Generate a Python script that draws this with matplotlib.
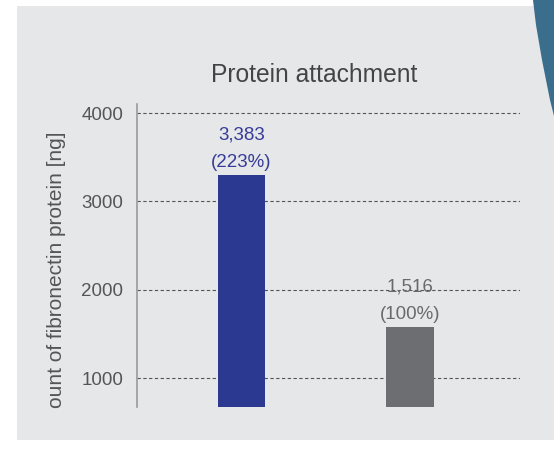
import matplotlib
matplotlib.use("Agg")
import matplotlib.pyplot as plt
from matplotlib.patches import Rectangle, Polygon

categories = ["Sample A", "Control"]
values = [3300, 1580]
value_labels = ["3,383", "1,516"]
pct_labels = ["(223%)", "(100%)"]
yticks = [1000, 2000, 3000, 4000]
ytick_labels = ["1000", "2000", "3000", "4000"]

bar_colors = ["#2b3990", "#6d6e71"]
label_colors = ["#363c98", "#6a6a6c"]

plt.rcParams['font.family'] = ['Liberation Sans', 'DejaVu Sans']

fig = plt.figure(figsize=(5.54, 4.55), dpi=100)
fig.patch.set_facecolor("white")

# panel background
fig.patches.append(Rectangle((17/554, 1-440/455), 1, (440-6)/455,
                             transform=fig.transFigure, facecolor="#e6e7e8",
                             edgecolor="none", zorder=-2))
# decorative blue shape at top right
fig.patches.append(Polygon([(533/554, 1.0), (1.0, 1.0), (1.0, 1-116/455),
                            (550/554, 1-100/455), (542/554, 1-60/455),
                            (536/554, 1-25/455)],
                           closed=True, transform=fig.transFigure,
                           facecolor="#3b6d8c", edgecolor="none", zorder=-1))

ax = fig.add_axes([137/554, 1-407/455, (520-137)/554, (407-104)/455])
ax.set_zorder(2)
ax.set_facecolor("none")
x = list(range(len(categories)))
ax.bar(x, values, width=0.28, color=bar_colors, zorder=3)
ax.set_xlim(-0.62, 1.652)
ax.set_ylim(672, 4102)

ax.set_yticks(yticks)
ax.set_yticklabels(ytick_labels, fontsize=13.5, color="#555555")
ax.tick_params(axis="y", length=0, pad=10)
ax.set_xticks([])
for s in ["top", "right", "bottom"]:
    ax.spines[s].set_visible(False)
ax.spines["left"].set_color("#9a9a9a")
ax.spines["left"].set_linewidth(1.2)
for t in yticks:
    ax.axhline(t, color="#555555", linewidth=0.8, linestyle=(0, (3, 2.2)), zorder=1)

for xi, v, vl, pl, c in zip(x, values, value_labels, pct_labels, label_colors):
    ax.annotate(vl + "\n" + pl, (xi, v), xytext=(0, 3), textcoords="offset points",
                ha="center", va="bottom", fontsize=13.5, color=c, linespacing=1.75,
                zorder=4)

fig.text(314/554, 1-75/455, "Protein attachment", ha="center", va="center",
         fontsize=17.7, color="#444444", zorder=3)
fig.text(57/554, 1-270/455, "ount of fibronectin protein [ng]", rotation=90,
         ha="center", va="center", fontsize=15, color="#555555", zorder=3)

fig.savefig("out.png", dpi=100)
